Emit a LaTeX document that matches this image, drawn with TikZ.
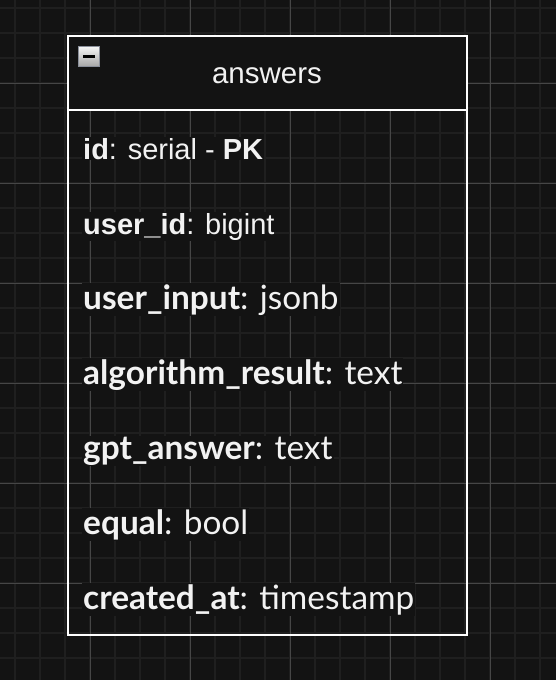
\documentclass[tikz,border=0pt]{standalone}
\usepackage{fontspec}
\setmainfont{Liberation Sans}
\newfontfamily\latofont{Lato}
\usetikzlibrary{shadings}
\definecolor{bgc}{HTML}{131313}
\definecolor{gridminor}{HTML}{1F1F1F}
\definecolor{gridmajor}{HTML}{464646}
\definecolor{txt}{HTML}{F2F2F2}
\definecolor{iconborder}{HTML}{8A8F9A}
\tikzset{
  rowtext/.style={anchor=base west, inner sep=1pt, fill=bgc, text=txt, font=\fontsize{29}{32}\selectfont},
  rowlato/.style={rowtext, font=\latofont\fontsize{33.4}{36}\selectfont},
  titletext/.style={anchor=base, inner sep=1pt, text=txt, font=\fontsize{29.5}{32}\selectfont},
  tableframe/.style={draw=white, line width=2pt},
}
\begin{document}
\begin{tikzpicture}[x=1pt,y=-1pt]
\useasboundingbox (0,0) rectangle (556,680);
\fill[bgc] (0,0) rectangle (556,680);
% grid
\foreach \gx in {15,40,...,540} \draw[gridminor, line width=2pt] (\gx,0) -- (\gx,680);
\foreach \gy in {8,33,...,683} \draw[gridminor, line width=2pt] (0,\gy) -- (556,\gy);
\foreach \gx in {90,190,...,490} \draw[gridmajor, line width=1pt] (\gx,0) -- (\gx,680);
\foreach \gy in {83,183,...,583} \draw[gridmajor, line width=1pt] (0,\gy) -- (556,\gy);
% table
\fill[bgc] (68,36) rectangle (467,110);
\draw[tableframe] (68,36) rectangle (467,635);
\draw[tableframe] (68,110) -- (467,110);
% collapse icon
\shade[top color=white!92!gray, bottom color=gray!70, draw=iconborder, line width=1.2pt] (78.5,46.5) rectangle (99.5,66.5);
\draw[black, line width=2.2pt] (83,56.5) -- (95,56.5);
\node[titletext] (title) at (267,83) {answers};
\node[rowtext] (r1) at (82,159) {\textbf{id}: serial - \textbf{PK}};
\node[rowtext] (r2) at (82,234) {\textbf{user\_id}: bigint};
\node[rowlato] (r3) at (82,309) {\textbf{user\_input}: jsonb};
\node[rowlato] (r4) at (82,384) {\textbf{algorithm\_result}: text};
\node[rowlato] (r5) at (82,459) {\textbf{gpt\_answer}: text};
\node[rowlato] (r6) at (82,534) {\textbf{equal}: bool};
\node[rowlato] (r7) at (82,609) {\textbf{created\_at}: timestamp};
\end{tikzpicture}
\end{document}
